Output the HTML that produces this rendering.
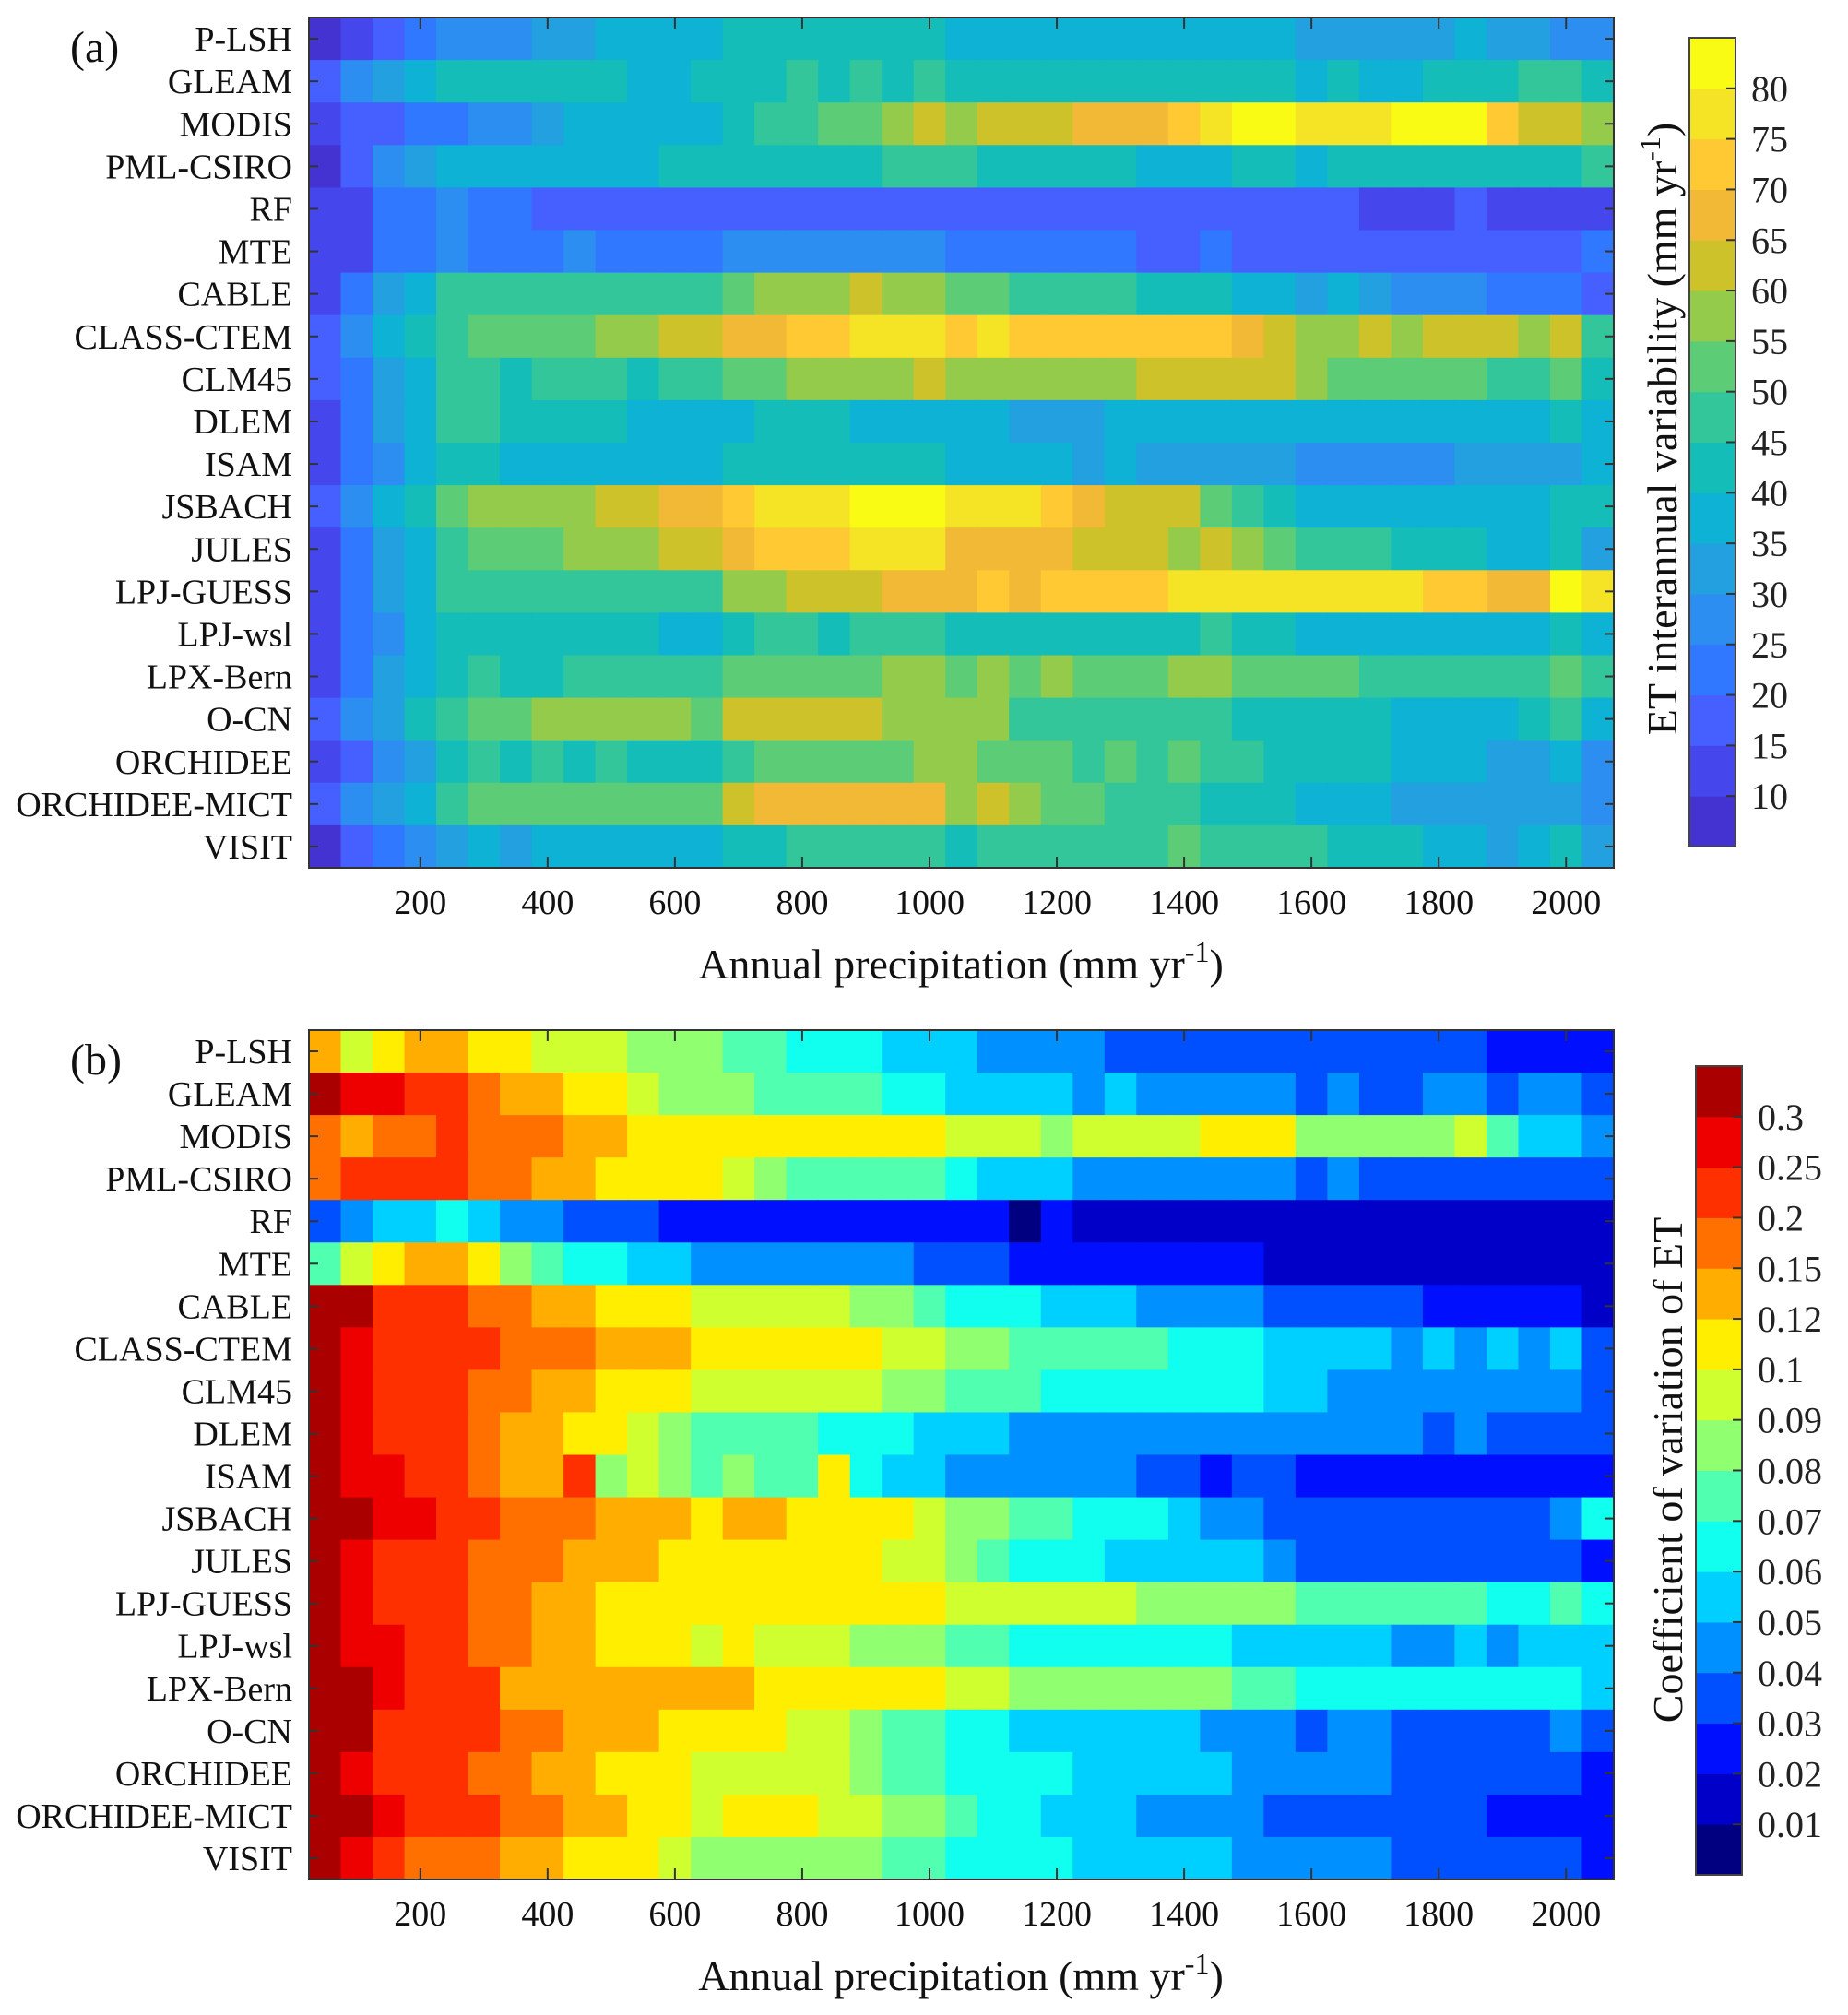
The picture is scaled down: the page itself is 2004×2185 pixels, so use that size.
<!DOCTYPE html>
<html><head><meta charset="utf-8"><style>
html,body{margin:0;padding:0;background:#fff;}
svg{display:block;font-family:"Liberation Serif",serif;}
</style></head><body>
<svg id="chart" xmlns="http://www.w3.org/2000/svg" width="2004" height="2185" viewBox="0 0 2004 2185">
<rect x="0" y="0" width="2004" height="2185" fill="#fff"/>
</svg>
<script>
const models = ["P-LSH","GLEAM","MODIS","PML-CSIRO","RF","MTE","CABLE","CLASS-CTEM","CLM45","DLEM","ISAM","JSBACH","JULES","LPJ-GUESS","LPJ-wsl","LPX-Bern","O-CN","ORCHIDEE","ORCHIDEE-MICT","VISIT"];
const precipBins = [50,100,150,200,250,300,350,400,450,500,550,600,650,700,750,800,850,900,950,1000,1050,1100,1150,1200,1250,1300,1350,1400,1450,1500,1550,1600,1650,1700,1750,1800,1850,1900,1950,2000,2050];
const xTicks = [200,400,600,800,1000,1200,1400,1600,1800,2000];
const cbTicksA = [10,15,20,25,30,35,40,45,50,55,60,65,70,75,80];
const cbTicksB = ["0.01","0.02","0.03","0.04","0.05","0.06","0.07","0.08","0.09","0.1","0.12","0.15","0.2","0.25","0.3"];
const cbBoundsB = [0.01,0.02,0.03,0.04,0.05,0.06,0.07,0.08,0.09,0.1,0.12,0.15,0.2,0.25,0.3];

// Panel (a): ET interannual variability (mm/yr)
const etIAV = [
[7,12,17,22,27,27,27,32,32,37,37,37,37,42,42,42,42,42,42,42,37,37,37,37,37,37,37,37,37,37,37,32,32,32,32,32,37,32,32,27,27],
[17,27,32,37,42,42,42,42,42,42,37,37,42,42,42,47,42,47,42,47,42,42,42,42,42,42,42,42,42,42,42,37,42,37,37,42,42,42,47,47,42],
[12,17,17,22,22,27,27,32,37,37,37,37,37,42,47,47,52,52,57,62,57,62,62,62,67,67,67,72,77,82,82,77,77,77,82,82,82,72,62,62,57],
[7,17,27,32,37,37,37,37,37,37,37,42,42,42,42,42,42,42,47,47,47,42,42,42,42,42,37,37,37,42,42,37,42,42,42,42,42,42,42,42,47],
[12,12,22,22,27,22,22,17,17,17,17,17,17,17,17,17,17,17,17,17,17,17,17,17,17,17,17,17,17,17,17,17,17,12,12,12,17,12,12,12,12],
[12,12,22,22,27,22,22,22,27,22,22,22,22,27,27,27,27,27,27,27,22,22,22,22,22,22,17,17,22,17,17,17,17,17,17,17,17,17,17,17,22],
[12,22,32,37,47,47,47,47,47,47,47,47,47,52,57,57,57,62,57,57,52,52,47,47,47,47,42,42,42,37,37,32,37,32,27,27,27,22,22,22,17],
[17,27,37,42,47,52,52,52,52,57,57,62,62,67,67,72,72,77,77,77,72,77,72,72,72,72,72,72,72,67,62,57,57,62,57,62,62,62,57,62,47],
[17,22,32,37,47,47,42,47,47,47,42,47,47,52,52,57,57,57,57,62,57,57,57,57,57,57,62,62,62,62,62,57,52,52,52,52,52,47,47,52,42],
[12,22,32,37,47,47,42,42,42,42,37,37,37,37,42,42,42,37,37,37,37,37,32,32,32,37,37,37,37,37,37,37,37,37,37,37,37,37,37,42,37],
[12,22,27,37,42,42,37,37,37,37,37,37,37,42,42,42,42,42,42,42,37,37,37,37,32,37,32,32,32,32,32,27,27,27,27,27,32,32,32,32,37],
[17,27,37,42,52,57,57,57,57,62,62,67,67,72,77,77,77,82,82,82,77,77,77,72,67,62,62,62,52,47,42,37,37,37,37,37,37,37,37,42,42],
[12,22,32,37,47,52,52,52,57,57,57,62,62,67,72,72,72,77,77,77,67,67,67,67,62,62,62,57,62,57,52,47,47,47,42,42,42,37,37,42,32],
[12,22,32,37,47,47,47,47,47,47,47,47,47,57,57,62,62,62,67,67,67,72,67,72,72,72,72,77,77,77,77,77,77,77,77,72,72,67,67,82,77],
[12,22,27,37,42,42,42,42,42,42,42,37,37,42,47,47,42,47,47,47,42,42,42,42,42,42,42,42,47,42,42,37,37,37,37,37,37,37,37,42,37],
[12,22,32,37,42,47,42,42,47,47,47,47,47,52,52,52,52,52,57,57,52,57,52,57,52,52,52,57,57,52,52,52,52,47,47,47,47,47,47,52,47],
[17,27,32,42,47,52,52,57,57,57,57,57,52,62,62,62,62,62,57,57,57,57,47,47,47,47,47,47,47,42,42,42,42,42,37,37,37,37,42,47,37],
[12,17,27,32,42,47,42,47,42,47,42,42,42,47,52,52,52,52,52,57,57,52,52,52,47,52,47,52,47,47,42,42,42,42,37,37,37,32,32,37,27],
[17,27,32,37,47,52,52,52,52,52,52,52,52,62,67,67,67,67,67,67,57,62,57,52,52,47,47,47,42,42,42,37,37,37,32,32,32,32,32,32,27],
[7,17,22,27,32,37,32,37,37,37,37,37,37,42,42,47,47,47,47,47,42,47,47,47,47,47,47,52,47,47,47,47,42,42,42,37,37,32,37,42,32]
];

// Panel (b): coefficient of variation of ET
const etCV = [
[.135,.095,.11,.135,.135,.11,.11,.095,.095,.095,.085,.085,.085,.075,.075,.065,.065,.065,.055,.055,.055,.045,.045,.045,.045,.035,.035,.035,.035,.035,.035,.035,.035,.035,.035,.035,.035,.025,.025,.025,.025],
[.32,.27,.27,.22,.22,.17,.135,.135,.11,.11,.095,.085,.085,.085,.075,.075,.075,.075,.065,.065,.055,.055,.055,.055,.045,.055,.045,.045,.045,.045,.045,.035,.045,.035,.035,.045,.045,.035,.045,.045,.035],
[.17,.135,.17,.17,.22,.17,.17,.17,.135,.135,.11,.11,.11,.11,.11,.11,.11,.11,.11,.11,.095,.095,.095,.085,.095,.095,.095,.095,.11,.11,.11,.085,.085,.085,.085,.085,.095,.075,.055,.055,.045],
[.17,.22,.22,.22,.22,.17,.17,.135,.135,.11,.11,.11,.11,.095,.085,.075,.075,.075,.075,.075,.065,.055,.055,.055,.045,.045,.045,.045,.045,.045,.045,.035,.045,.035,.035,.035,.035,.035,.035,.035,.035],
[.035,.045,.055,.055,.065,.055,.045,.045,.035,.035,.035,.025,.025,.025,.025,.025,.025,.025,.025,.025,.025,.025,.005,.025,.015,.015,.015,.015,.015,.015,.015,.015,.015,.015,.015,.015,.015,.015,.015,.015,.015],
[.075,.095,.11,.135,.135,.11,.085,.075,.065,.065,.055,.055,.045,.045,.045,.045,.045,.045,.045,.035,.035,.035,.025,.025,.025,.025,.025,.025,.025,.025,.015,.015,.015,.015,.015,.015,.015,.015,.015,.015,.015],
[.32,.32,.22,.22,.22,.17,.17,.135,.135,.11,.11,.11,.095,.095,.095,.095,.095,.085,.085,.075,.065,.065,.065,.055,.055,.055,.045,.045,.045,.045,.035,.035,.035,.035,.035,.025,.025,.025,.025,.025,.015],
[.32,.27,.22,.22,.22,.22,.17,.17,.17,.135,.135,.135,.11,.11,.11,.11,.11,.11,.095,.095,.085,.085,.075,.075,.075,.075,.075,.065,.065,.065,.055,.055,.055,.055,.045,.055,.045,.055,.045,.055,.035],
[.32,.27,.22,.22,.22,.17,.17,.135,.135,.11,.11,.11,.095,.095,.095,.095,.095,.095,.085,.085,.075,.075,.075,.065,.065,.065,.065,.065,.065,.065,.055,.055,.045,.045,.045,.045,.045,.045,.045,.045,.035],
[.32,.27,.22,.22,.22,.17,.135,.135,.11,.11,.095,.085,.075,.075,.075,.075,.065,.065,.065,.055,.055,.055,.045,.045,.045,.045,.045,.045,.045,.045,.045,.045,.045,.045,.045,.035,.045,.035,.035,.035,.035],
[.32,.27,.27,.22,.22,.17,.135,.135,.22,.085,.095,.085,.075,.085,.075,.075,.11,.065,.055,.055,.045,.045,.045,.045,.045,.045,.035,.035,.025,.035,.035,.025,.025,.025,.025,.025,.025,.025,.025,.025,.025],
[.32,.32,.27,.27,.22,.22,.17,.17,.17,.135,.135,.135,.11,.135,.135,.11,.11,.11,.11,.095,.085,.085,.075,.075,.065,.065,.065,.055,.045,.045,.035,.035,.035,.035,.035,.035,.035,.035,.035,.045,.065],
[.32,.27,.22,.22,.22,.17,.17,.17,.135,.135,.135,.11,.11,.11,.11,.11,.11,.11,.095,.095,.085,.075,.065,.065,.065,.055,.055,.055,.055,.055,.045,.035,.035,.035,.035,.035,.035,.035,.035,.035,.025],
[.32,.27,.22,.22,.22,.17,.17,.135,.135,.11,.11,.11,.11,.11,.11,.11,.11,.11,.11,.11,.095,.095,.095,.095,.095,.095,.085,.085,.085,.085,.085,.075,.075,.075,.075,.075,.075,.065,.065,.075,.065],
[.32,.27,.27,.22,.22,.17,.17,.135,.135,.11,.11,.11,.095,.11,.095,.095,.095,.085,.085,.085,.075,.075,.065,.065,.065,.065,.065,.065,.065,.055,.055,.055,.055,.055,.045,.045,.055,.045,.055,.055,.055],
[.32,.32,.27,.22,.22,.22,.135,.135,.135,.135,.135,.135,.135,.135,.11,.11,.11,.11,.11,.11,.095,.095,.085,.085,.085,.085,.085,.085,.085,.075,.075,.065,.065,.065,.065,.065,.065,.065,.065,.065,.055],
[.32,.32,.22,.22,.22,.22,.17,.17,.135,.135,.135,.11,.11,.11,.11,.095,.095,.085,.075,.075,.065,.065,.055,.055,.055,.055,.055,.055,.045,.045,.045,.035,.045,.045,.035,.035,.035,.035,.035,.045,.035],
[.32,.27,.22,.22,.22,.17,.17,.135,.135,.11,.11,.11,.095,.095,.095,.095,.095,.085,.075,.075,.065,.065,.065,.065,.055,.055,.055,.055,.055,.045,.045,.045,.045,.045,.035,.035,.035,.035,.035,.035,.025],
[.32,.32,.27,.22,.22,.22,.17,.17,.135,.135,.11,.11,.095,.11,.11,.11,.095,.095,.085,.085,.075,.065,.065,.055,.055,.055,.045,.045,.045,.045,.035,.035,.035,.035,.035,.035,.035,.025,.025,.025,.025],
[.32,.27,.22,.17,.17,.17,.135,.135,.11,.11,.11,.095,.085,.085,.085,.085,.085,.085,.075,.075,.065,.065,.065,.065,.055,.055,.055,.055,.055,.045,.045,.045,.045,.045,.035,.035,.035,.035,.035,.035,.025]
];

const parula = ['#4433d0','#4546ec','#4560ff','#3078ff','#2b8ef0','#22a0e0','#0db2d4','#14bdb8','#33c69a','#5ccc76','#95cb4a','#cdc22a','#f2b936','#fec932','#f5e325','#f9fb15'];
const jet = ['#000080','#0000c8','#0010ff','#0050ff','#0090ff','#00d0ff','#10ffef','#50ffb0','#90ff70','#d0ff30','#ffee00','#ffae00','#ff7000','#ff3000','#ee0000','#aa0000'];

const NS = 'http://www.w3.org/2000/svg';
const svg = document.getElementById('chart');
const X0 = 335, X1 = 1750;
function xScale(mm){ return X0 + (mm - 25) / 2050 * (X1 - X0); }
const binW = (X1 - X0) / 2050 * 50;
function colorA(v){ let i = Math.floor((v - 5) / 5); i = Math.max(0, Math.min(15, i)); return parula[i]; }
function colorB(v){ let i = 0; for (const b of cbBoundsB) if (v >= b) i++; return jet[Math.min(15, i)]; }

function mk(tag, attrs, parent){
  const e = document.createElementNS(NS, tag);
  for (const k in attrs) e.setAttribute(k, attrs[k]);
  (parent || svg).appendChild(e);
  return e;
}

function panel(key, Y0, Y1, data, colorFn, letter, cb){
  const g = mk('g', {});
  
  
  const rowH = (Y1 - Y0) / models.length;
  data.forEach((row, r) => {
    row.forEach((v, c) => {
      const cx = xScale(precipBins[c]);
      const cell = mk('rect', {x: (cx - binW/2).toFixed(2), y: (Y0 + r*rowH).toFixed(2), width: (binW + 0.6).toFixed(2), height: (rowH + 0.6).toFixed(2), fill: colorFn(v)}, g);
      
      
    });
  });
  const frame = mk('rect', {x: X0, y: Y0, width: X1 - X0, height: Y1 - Y0, fill: 'none', stroke: '#333', 'stroke-width': 2}, g);
  
  
  models.forEach((m, r) => {
    const cy = Y0 + (r + 0.5) * rowH;
    const t = mk('text', {x: 317, y: cy + 13, 'text-anchor': 'end', 'font-size': 38, fill: '#111'}, g);
    t.textContent = m;
    
    
    mk('line', {x1: X0, x2: X0 + 10, y1: cy, y2: cy, stroke: '#333', 'stroke-width': 2}, g);
    mk('line', {x1: X1, x2: X1 - 10, y1: cy, y2: cy, stroke: '#333', 'stroke-width': 2}, g);
  });
  xTicks.forEach(v => {
    const x = xScale(v);
    mk('line', {x1: x, x2: x, y1: Y1, y2: Y1 - 12, stroke: '#333', 'stroke-width': 2}, g);
    mk('line', {x1: x, x2: x, y1: Y0, y2: Y0 + 12, stroke: '#333', 'stroke-width': 2}, g);
    const t = mk('text', {x: x, y: Y1 + 50, 'text-anchor': 'middle', 'font-size': 38, fill: '#111'}, g);
    t.textContent = v;
    
    
  });
  const xt = mk('text', {x: 1042, y: Y1 + 120, 'text-anchor': 'middle', 'font-size': 46, fill: '#111'}, g);
  
  
  xt.appendChild(document.createTextNode('Annual precipitation (mm yr'));
  const sup = mk('tspan', {dy: -18, 'font-size': 32}, xt); sup.textContent = '-1';
  const cl = mk('tspan', {dy: 18}, xt); cl.textContent = ')';
  const lt = mk('text', {x: 76, y: Y0 + 48, 'font-size': 48, fill: '#111'}, g);
  lt.textContent = letter;
  
  
  const cg = mk('g', {}, g);
  
  
  const bh = (cb.y1 - cb.y0) / 16;
  cb.colors.forEach((col, i) => {
    mk('rect', {x: cb.x0, y: (cb.y1 - (i+1)*bh).toFixed(2), width: cb.x1 - cb.x0, height: (bh + 0.5).toFixed(2), fill: col}, cg);
  });
  mk('rect', {x: cb.x0, y: cb.y0, width: cb.x1 - cb.x0, height: cb.y1 - cb.y0, fill: 'none', stroke: '#444', 'stroke-width': 2}, cg);
  cb.ticks.forEach((lab, i) => {
    const y = cb.y1 - (i+1)*bh;
    mk('line', {x1: cb.x1, x2: cb.x1 - 10, y1: y, y2: y, stroke: '#333', 'stroke-width': 2}, cg);
    const t = mk('text', {x: cb.x1 + 17, y: y + 14, 'font-size': 40, fill: '#222'}, cg);
    t.textContent = lab;
    
    
  });
  const ct = mk('text', {x: 0, y: 0, 'text-anchor': 'middle', 'font-size': 46, fill: '#111', transform: 'translate(' + cb.tx + ',' + cb.ty + ') rotate(-90)'}, cg);
  
  
  ct.appendChild(document.createTextNode(cb.title));
  if (cb.sup) {
    const s = mk('tspan', {dy: -18, 'font-size': 32}, ct); s.textContent = '-1';
    const c2 = mk('tspan', {dy: 18}, ct); c2.textContent = ')';
  }
}

panel('a', 19, 941, etIAV, colorA, '(a)', {x0: 1832, x1: 1882, y0: 41, y1: 918, colors: parula, ticks: cbTicksA.map(String), tx: 1818, ty: 465, title: 'ET interannual variability (mm yr', sup: true});
panel('b', 1117, 2038, etCV, colorB, '(b)', {x0: 1839, x1: 1889, y0: 1156, y1: 2033, colors: jet, ticks: cbTicksB, tx: 1824, ty: 1594, title: 'Coefficient of variation of ET', sup: false});
</script>
</body></html>
